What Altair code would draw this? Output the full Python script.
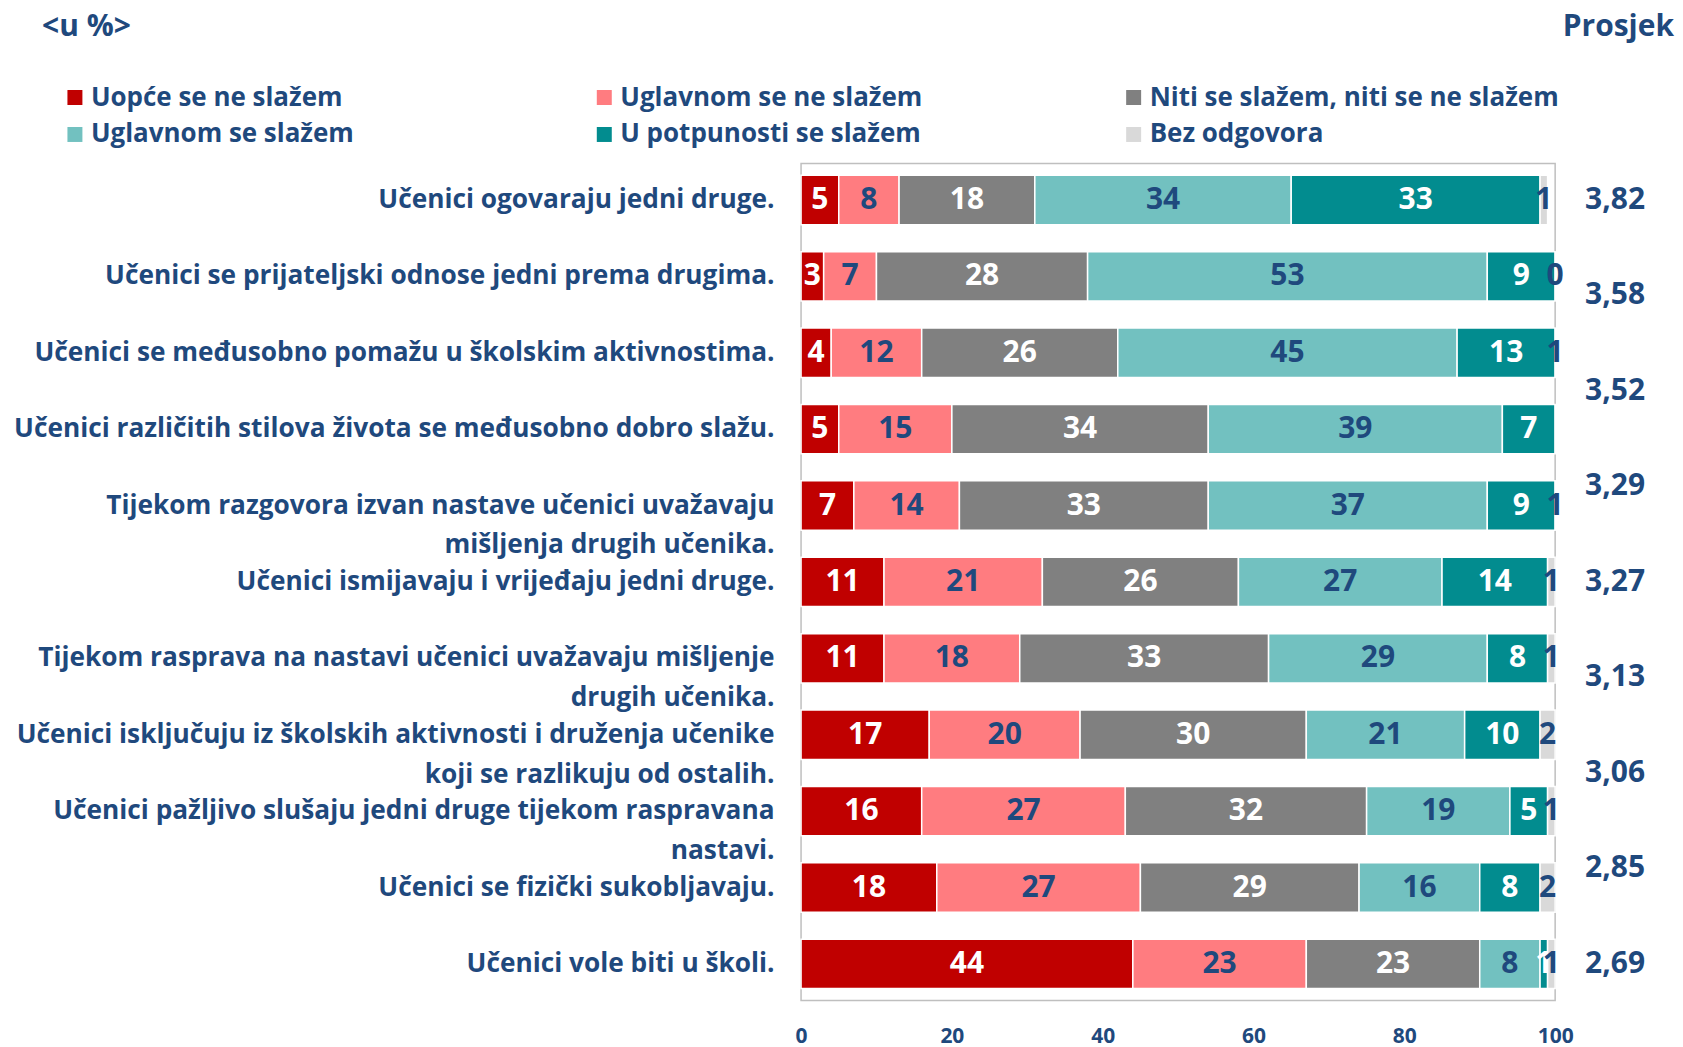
import altair as alt
import pandas as pd

FONT = "Open Sans"
NAVY = "#1F497D"

categories = [
    "Učenici ogovaraju jedni druge.",
    "Učenici se prijateljski odnose jedni prema drugima.",
    "Učenici se međusobno pomažu u školskim aktivnostima.",
    "Učenici različitih stilova života se međusobno dobro slažu.",
    "Tijekom razgovora izvan nastave učenici uvažavaju|mišljenja drugih učenika.",
    "Učenici ismijavaju i vrijeđaju jedni druge.",
    "Tijekom rasprava na nastavi učenici uvažavaju mišljenje|drugih učenika.",
    "Učenici isključuju iz školskih aktivnosti i druženja učenike|koji se razlikuju od ostalih.",
    "Učenici pažljivo slušaju jedni druge tijekom raspravana|nastavi.",
    "Učenici se fizički sukobljavaju.",
    "Učenici vole biti u školi.",
]
responses = [
    "Uopće se ne slažem",
    "Uglavnom se ne slažem",
    "Niti se slažem, niti se ne slažem",
    "Uglavnom se slažem",
    "U potpunosti se slažem",
    "Bez odgovora",
]
colors = ["#C00000", "#FF7C80", "#808080", "#72C1C0", "#028C8F", "#D9D9D9"]

uopce = [5, 3, 4, 5, 7, 11, 11, 17, 16, 18, 44]
uglavnom_ne = [8, 7, 12, 15, 14, 21, 18, 20, 27, 27, 23]
niti = [18, 28, 26, 34, 33, 26, 33, 30, 32, 29, 23]
uglavnom_da = [34, 53, 45, 39, 37, 27, 29, 21, 19, 16, 8]
potpuno = [33, 9, 13, 7, 9, 14, 8, 10, 5, 8, 1]
bez = [1, 0, 1, None, 1, 1, 1, 2, 1, 2, 1]

prosjek = [3.82, 3.58, 3.52, 3.29, 3.27, 3.13, 3.06, 2.85, 2.69]
x_ticks = [0, 20, 40, 60, 80, 100]

series = [uopce, uglavnom_ne, niti, uglavnom_da, potpuno, bez]
rows = []
for ci, cat in enumerate(categories):
    for ri, resp in enumerate(responses):
        v = series[ri][ci]
        rows.append({
            "cat": cat,
            "resp": resp,
            "order": ri,
            "value": 0 if v is None else v,
            "label": "" if v is None else str(v),
        })
df = pd.DataFrame(rows)

avg_df = pd.DataFrame({
    "idx": list(range(len(prosjek))),
    "lbl": [f"{v:.2f}".replace(".", ",") for v in prosjek],
})

base = alt.Chart(df).transform_stack(
    stack="value", groupby=["cat"], sort=[alt.SortField("order")], as_=["v0", "v1"]
)

y_enc = alt.Y(
    "cat:N",
    sort=categories,
    scale=alt.Scale(paddingInner=0.354, paddingOuter=0.155),
    axis=alt.Axis(
        title=None, ticks=False, domain=False, labelFont=FONT, labelFontSize=26.3,
        labelFontWeight="bold", labelColor=NAVY, labelPadding=27, labelLimit=900,
        labelExpr="split(datum.label, '|')", labelLineHeight=40,
    ),
)
x_scale = alt.Scale(domain=[0, 100], nice=False, clamp=True)

bars = base.mark_bar(stroke="white", strokeWidth=1.5).encode(
    y=y_enc,
    x=alt.X(
        "v0:Q", scale=x_scale,
        axis=alt.Axis(
            values=x_ticks, title=None, ticks=False, domain=False, grid=False,
            labelFont=FONT, labelFontSize=21, labelFontWeight="bold", labelColor=NAVY,
            labelPadding=25, labelFlush=False,
        ),
    ),
    x2="v1:Q",
    color=alt.Color(
        "resp:N", sort=responses,
        scale=alt.Scale(domain=responses, range=colors),
        legend=alt.Legend(
            orient="none", legendX=-740, legendY=-79, columns=3, direction="horizontal",
            title=None, symbolType="square", symbolSize=225, symbolStrokeWidth=0,
            labelFont=FONT, labelFontSize=26, labelFontWeight="bold", labelColor=NAVY,
            labelOffset=3, columnPadding=91, rowPadding=11, gridAlign="all",
            labelLimit=800,
        ),
    ),
)

texts = base.transform_calculate(mid="(datum.v0 + datum.v1) / 2").mark_text(
    font=FONT, fontSize=30, fontWeight="bold", baseline="middle", align="center"
).encode(
    y=alt.Y("cat:N", sort=categories),
    x=alt.X("mid:Q", scale=x_scale),
    text="label:N",
    color=alt.condition(
        alt.FieldOneOfPredicate(field="resp", oneOf=[responses[0], responses[2], responses[4]]),
        alt.value("white"), alt.value(NAVY),
    ),
)

main = alt.layer(bars, texts).properties(
    width=755, height=838,
    title=alt.TitleParams(
        "<u %>", anchor="start", frame="bounds", font=FONT, fontSize=30,
        fontWeight="bold", color=NAVY, offset=122, dx=29,
    ),
)

avg = alt.Chart(avg_df).mark_text(
    font=FONT, fontSize=30, fontWeight="bold", color=NAVY, baseline="middle"
).encode(
    y=alt.Y("idx:O", scale=alt.Scale(type="point", padding=0.383), axis=None),
    text="lbl:N",
).properties(
    width=118, height=838,
    view=alt.ViewBackground(stroke="transparent"),
    title=alt.TitleParams(
        "Prosjek", anchor="end", font=FONT, fontSize=30, fontWeight="bold",
        color=NAVY, offset=122,
    ),
)

chart = alt.hconcat(main, avg, spacing=1, bounds="flush").configure_view(
    stroke="#BFBFBF", strokeWidth=1.5
).properties(
    padding={"left": 4, "top": 2, "right": 0, "bottom": 0}
)

chart.save("out.html", embed_options={"renderer": "svg", "actions": False})
